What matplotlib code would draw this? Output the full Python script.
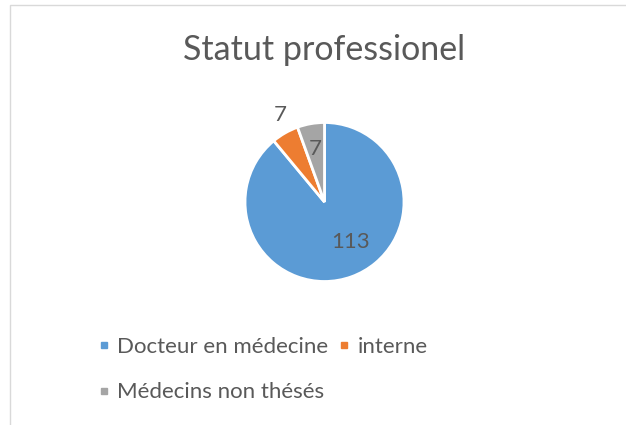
import numpy as np
import matplotlib
matplotlib.use("Agg")
import matplotlib.pyplot as plt
from matplotlib.lines import Line2D
from matplotlib.patches import Rectangle

# ------------ data ----------
categories = ["Docteur en médecine", "interne", "Médecins non thésés"]
counts = [113, 7, 7]
colors = ["#5B9BD5", "#ED7D31", "#A5A5A5"]
title = "Statut professionel"

# label placement (fraction of radius, angle shift in degrees)
label_dist = [0.58, 1.25, 0.70]
label_shift = [15.0, -3.0, 0.0]

W, H = 626, 425
TXT = "#595959"
plt.rcParams["font.family"] = ["Lato", "DejaVu Sans"]

fig = plt.figure(figsize=(W / 100, H / 100), dpi=100)
ax = fig.add_axes([0, 0, 1, 1])

# pie in pixel units (y up)
cx, cy, R = 324.5, H - 202, 79.5
wedges, _ = ax.pie(counts, colors=colors, startangle=90, counterclock=False,
                   center=(cx, cy), radius=R,
                   wedgeprops=dict(edgecolor="white", linewidth=2))
ax.set_xlim(0, W)
ax.set_ylim(0, H)
ax.set_aspect("equal")
ax.axis("off")

# data labels
for w, v, f, s in zip(wedges, counts, label_dist, label_shift):
    ang = np.deg2rad((w.theta1 + w.theta2) / 2 + s)
    ax.text(cx + f * R * np.cos(ang), cy + f * R * np.sin(ang), str(v),
            ha="center", va="center_baseline", fontsize=16, color=TXT)

# title
ax.text(cx, H - 60, title, ha="center", va="baseline", fontsize=24.5, color=TXT)

# legend (order so that ncol=2 reads like the flow layout of the original)
order = [0, 2, 1]
handles = [Line2D([], [], marker="s", ls="", markersize=5,
                  color=colors[i]) for i in order]
leg = ax.legend(handles, [categories[i] for i in order], ncol=2,
                loc="upper left", bbox_to_anchor=(98.4 / W, 1 - 337 / H),
                frameon=False, fontsize=16, handlelength=0.5,
                handletextpad=0.35, columnspacing=0.46, labelspacing=1.14,
                borderpad=0, borderaxespad=0, labelcolor=TXT)

# chart area border
fig.add_artist(Rectangle((9.5 / W, -0.1), 1.2, (H - 5.5) / H + 0.1,
                         transform=fig.transFigure, fill=False,
                         ec="#D9D9D9", lw=1))

fig.savefig("out.png", dpi=100, facecolor="white")
